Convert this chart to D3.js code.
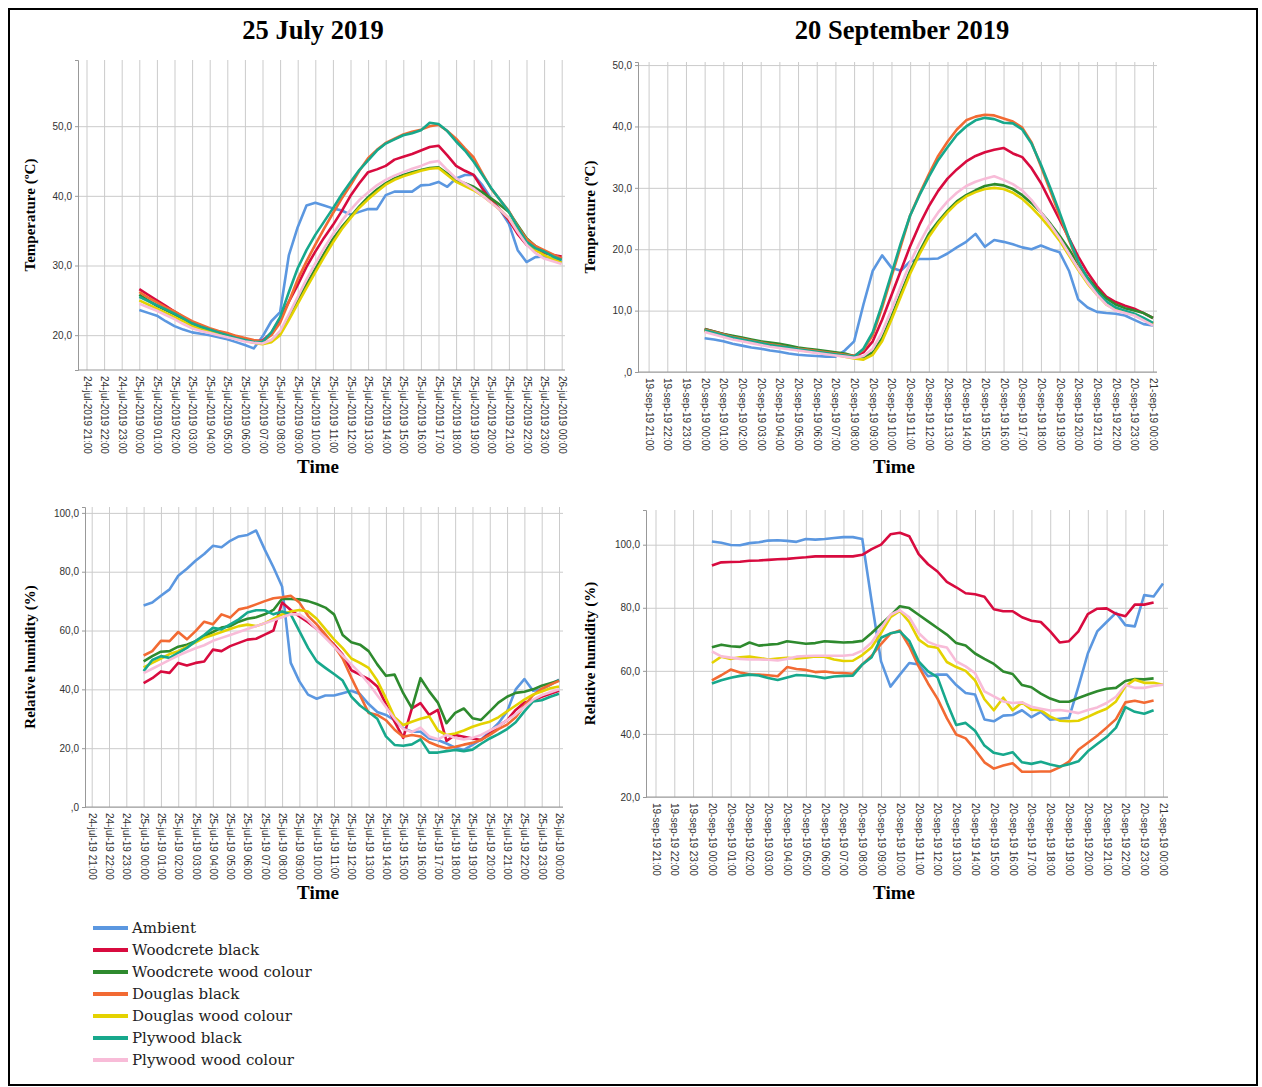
<!DOCTYPE html>
<html>
<head>
<meta charset="utf-8">
<script src="https://cdn.jsdelivr.net/npm/d3@7"></script>
<style>
  body { margin: 0; background: #fff; }
  svg { display: block; }
  .grid line { stroke: #cbcbcb; stroke-width: 1; }
  .axis text { font-family: "Liberation Sans", Arial, sans-serif; font-size: 10px; fill: #333; }
  .axis line, .axis path { stroke: #999; }
  .ttl { font-family: "Liberation Serif", "Times New Roman", serif; font-weight: bold; fill: #000; }
  .legend text { font-family: "DejaVu Serif", serif; font-size: 15px; fill: #222; }
</style>
</head>
<body>
<svg id="fig" width="1262" height="1087"></svg>
<script>
// series (legend order)
const seriesNames = ["Ambient", "Woodcrete black", "Woodcrete wood colour", "Douglas black",
  "Douglas wood colour", "Plywood black", "Plywood wood colour"];
const seriesColors = ["#5b97e0", "#d80b3f", "#2e8a2e", "#f26a33", "#e4d200", "#17a88c", "#f8bcd8"];

// x categories: hourly, first one is 21:00 the day before
const julyLongTicks = ["24-jul-2019 21:00", "24-jul-2019 22:00", "24-jul-2019 23:00", "25-jul-2019 00:00",
  "25-jul-2019 01:00", "25-jul-2019 02:00", "25-jul-2019 03:00", "25-jul-2019 04:00", "25-jul-2019 05:00",
  "25-jul-2019 06:00", "25-jul-2019 07:00", "25-jul-2019 08:00", "25-jul-2019 09:00", "25-jul-2019 10:00",
  "25-jul-2019 11:00", "25-jul-2019 12:00", "25-jul-2019 13:00", "25-jul-2019 14:00", "25-jul-2019 15:00",
  "25-jul-2019 16:00", "25-jul-2019 17:00", "25-jul-2019 18:00", "25-jul-2019 19:00", "25-jul-2019 20:00",
  "25-jul-2019 21:00", "25-jul-2019 22:00", "25-jul-2019 23:00", "26-jul-2019 00:00"];
const julyShortTicks = ["24-jul-19 21:00", "24-jul-19 22:00", "24-jul-19 23:00", "25-jul-19 00:00",
  "25-jul-19 01:00", "25-jul-19 02:00", "25-jul-19 03:00", "25-jul-19 04:00", "25-jul-19 05:00",
  "25-jul-19 06:00", "25-jul-19 07:00", "25-jul-19 08:00", "25-jul-19 09:00", "25-jul-19 10:00",
  "25-jul-19 11:00", "25-jul-19 12:00", "25-jul-19 13:00", "25-jul-19 14:00", "25-jul-19 15:00",
  "25-jul-19 16:00", "25-jul-19 17:00", "25-jul-19 18:00", "25-jul-19 19:00", "25-jul-19 20:00",
  "25-jul-19 21:00", "25-jul-19 22:00", "25-jul-19 23:00", "26-jul-19 00:00"];
const septTicks = ["19-sep-19 21:00", "19-sep-19 22:00", "19-sep-19 23:00", "20-sep-19 00:00",
  "20-sep-19 01:00", "20-sep-19 02:00", "20-sep-19 03:00", "20-sep-19 04:00", "20-sep-19 05:00",
  "20-sep-19 06:00", "20-sep-19 07:00", "20-sep-19 08:00", "20-sep-19 09:00", "20-sep-19 10:00",
  "20-sep-19 11:00", "20-sep-19 12:00", "20-sep-19 13:00", "20-sep-19 14:00", "20-sep-19 15:00",
  "20-sep-19 16:00", "20-sep-19 17:00", "20-sep-19 18:00", "20-sep-19 19:00", "20-sep-19 20:00",
  "20-sep-19 21:00", "20-sep-19 22:00", "20-sep-19 23:00", "21-sep-19 00:00"];

// samples start at 00:00 (category index 3), every half hour
const sampleStart = 3;
const sampleStep = 0.5;

const julTempTicks = [20, 30, 40, 50];
const sepTempTicks = [0, 10, 20, 30, 40, 50];
const julHumTicks = [0, 20, 40, 60, 80, 100];
const sepHumTicks = [20, 40, 60, 80, 100];

// 25 July 2019 - temperature (ºC)
const julTempAmbient = [23.6, 23.2, 22.8, 22.0, 21.3, 20.8, 20.4, 20.2, 20.0, 19.7,
  19.4, 19.0, 18.6, 18.1, 19.8, 22.0, 23.3, 31.5, 35.5, 38.6,
  39.0, 38.6, 38.2, 37.9, 37.3, 37.7, 38.1, 38.1, 40.1, 40.6,
  40.6, 40.6, 41.5, 41.6, 42.0, 41.3, 42.5, 43.0, 43.0, 41.5,
  39.6, 38.0, 36.0, 32.2, 30.5, 31.2, 31.3, 31.0, 30.5];
const julTempWoodcreteBlack = [26.6, 25.8, 25.0, 24.2, 23.4, 22.6, 21.8, 21.3, 20.8, 20.5,
  20.2, 19.8, 19.5, 19.2, 19.2, 20.3, 22.4, 24.8, 27.2, 29.8,
  32.0, 34.0, 35.8, 37.8, 40.0, 41.8, 43.4, 43.8, 44.3, 45.2,
  45.6, 46.0, 46.5, 47.0, 47.2, 45.8, 44.3, 43.6, 43.0, 41.0,
  39.3, 38.0, 36.5, 34.5, 33.0, 32.2, 31.8, 31.5, 31.3];
const julTempWoodcreteWood = [25.8, 25.0, 24.2, 23.6, 23.0, 22.3, 21.6, 21.1, 20.7, 20.4,
  20.1, 19.7, 19.4, 19.1, 18.8, 19.2, 20.3, 22.5, 25.0, 27.3,
  29.5, 31.7, 33.8, 35.5, 37.0, 38.5, 39.8, 40.9, 41.8, 42.5,
  43.0, 43.4, 43.7, 44.0, 44.1, 43.2, 42.2, 41.8, 41.3, 40.5,
  39.6, 38.7, 37.7, 35.8, 33.9, 32.8, 32.0, 31.5, 31.0];
const julTempDouglasBlack = [26.2, 25.4, 24.7, 24.0, 23.4, 22.7, 22.0, 21.5, 21.0, 20.6,
  20.3, 19.9, 19.6, 19.3, 19.1, 20.0, 21.8, 24.8, 28.0, 30.6,
  33.0, 35.3, 37.5, 39.6, 41.5, 43.6, 45.4, 46.6, 47.6, 48.2,
  48.8, 49.2, 49.5, 50.0, 50.2, 49.3, 48.2, 46.8, 45.5, 43.2,
  41.0, 39.4, 37.8, 35.6, 33.8, 32.8, 32.2, 31.6, 31.0];
const julTempDouglasWood = [25.0, 24.4, 23.8, 23.2, 22.6, 22.0, 21.3, 20.9, 20.5, 20.2,
  19.9, 19.5, 19.2, 18.9, 18.7, 19.0, 20.0, 22.2, 24.5, 26.8,
  29.0, 31.2, 33.3, 35.2, 36.8, 38.3, 39.5, 40.6, 41.6, 42.3,
  42.8, 43.2, 43.6, 43.9, 44.0, 43.0, 42.0, 41.4, 40.8, 40.0,
  39.0, 38.0, 36.8, 35.0, 33.2, 32.2, 31.5, 30.9, 30.4];
const julTempPlywoodBlack = [25.5, 24.9, 24.3, 23.7, 23.1, 22.4, 21.7, 21.2, 20.8, 20.4,
  20.0, 19.6, 19.3, 19.0, 19.0, 20.4, 22.6, 26.2, 29.6, 32.2,
  34.4, 36.3, 38.2, 40.2, 42.0, 43.7, 45.1, 46.5, 47.5, 48.1,
  48.7, 49.0, 49.4, 50.5, 50.3, 49.3, 47.8, 46.5, 44.9, 43.0,
  41.1, 39.4, 37.7, 35.5, 33.4, 32.5, 32.0, 31.3, 30.8];
const julTempPlywoodWood = [24.5, 24.0, 23.5, 22.9, 22.3, 21.6, 21.0, 20.6, 20.3, 20.0,
  19.7, 19.4, 19.1, 18.9, 18.8, 19.3, 20.6, 23.0, 25.5, 28.0,
  30.3, 32.5, 34.5, 36.4, 38.0, 39.4, 40.5, 41.5, 42.3, 42.9,
  43.4, 43.9, 44.3, 44.8, 45.0, 43.7, 42.5, 41.8, 41.0, 40.0,
  39.0, 38.0, 36.8, 34.8, 33.0, 31.8, 31.0, 30.6, 30.2];

// 20 September 2019 - temperature (ºC)
const sepTempAmbient = [5.5, 5.3, 5.0, 4.6, 4.3, 4.0, 3.8, 3.5, 3.3, 3.0,
  2.8, 2.7, 2.6, 2.5, 2.5, 3.5, 5.0, 11.0, 16.5, 19.0,
  17.0, 16.5, 18.0, 18.4, 18.4, 18.5, 19.3, 20.3, 21.2, 22.5,
  20.4, 21.5, 21.2, 20.8, 20.3, 20.0, 20.6, 20.0, 19.5, 16.5,
  11.8, 10.5, 9.8, 9.6, 9.5, 9.2, 8.5, 7.8, 7.6];
const sepTempWoodcreteBlack = [7.0, 6.6, 6.2, 5.8, 5.4, 5.1, 4.8, 4.6, 4.4, 4.1,
  3.8, 3.6, 3.4, 3.2, 3.0, 2.8, 2.6, 3.2, 5.0, 8.5,
  12.5, 16.5, 20.5, 24.0, 27.0, 29.5, 31.5, 33.0, 34.3, 35.2,
  35.8, 36.2, 36.5, 35.6, 35.0, 33.2, 30.8, 27.8, 24.8, 21.8,
  18.8, 16.2, 14.0, 12.3, 11.4, 10.8, 10.3, 9.6, 8.8];
const sepTempWoodcreteWood = [7.0, 6.6, 6.2, 5.9, 5.6, 5.3, 5.0, 4.8, 4.6, 4.3,
  4.0, 3.8, 3.6, 3.4, 3.2, 3.0, 2.6, 2.4, 3.2, 5.5,
  9.0, 12.8, 16.5, 19.6, 22.5, 24.5, 26.3, 27.8, 28.8, 29.6,
  30.3, 30.6, 30.4, 29.8, 28.8, 27.5, 26.0, 24.2, 22.2, 20.0,
  17.6, 15.4, 13.5, 12.0, 11.0, 10.4, 10.0, 9.6, 8.8];
const sepTempDouglasBlack = [6.9, 6.5, 6.1, 5.7, 5.4, 5.1, 4.8, 4.5, 4.3, 4.0,
  3.8, 3.6, 3.4, 3.2, 3.0, 2.8, 2.6, 3.6, 6.0, 10.5,
  15.5, 20.5, 25.5, 29.0, 32.2, 35.2, 37.5, 39.5, 41.0, 41.6,
  41.9, 41.8, 41.3, 40.8, 39.8, 37.4, 33.5, 29.5, 25.5, 21.5,
  17.8, 15.0, 12.8, 11.3, 10.4, 9.9, 9.4, 8.7, 7.9];
const sepTempDouglasWood = [6.7, 6.3, 5.9, 5.5, 5.2, 4.9, 4.6, 4.3, 4.1, 3.9,
  3.6, 3.4, 3.2, 3.0, 2.8, 2.5, 2.2, 2.0, 2.8, 5.0,
  8.5, 12.3, 16.0, 19.2, 22.0, 24.2, 26.0, 27.5, 28.6, 29.3,
  29.8, 30.0, 29.8, 29.2, 28.2, 26.8, 25.2, 23.4, 21.4, 19.0,
  16.6, 14.4, 12.6, 11.0, 10.2, 9.8, 9.4, 8.6, 7.8];
const sepTempPlywoodBlack = [6.8, 6.4, 6.0, 5.6, 5.3, 5.0, 4.7, 4.4, 4.2, 4.0,
  3.7, 3.5, 3.3, 3.1, 2.9, 2.7, 2.5, 3.8, 6.5, 11.0,
  16.0, 21.0, 25.5, 28.8, 31.8, 34.5, 36.6, 38.6, 40.0, 41.0,
  41.4, 41.2, 40.6, 40.5, 39.5, 37.2, 33.8, 30.0, 26.0, 21.8,
  18.0, 15.2, 13.0, 11.5, 10.5, 10.0, 9.5, 8.8, 8.0];
const sepTempPlywoodWood = [6.5, 6.1, 5.7, 5.3, 5.0, 4.7, 4.4, 4.1, 3.9, 3.7,
  3.5, 3.3, 3.1, 2.9, 2.7, 2.5, 2.3, 2.6, 3.8, 6.5,
  10.2, 14.0, 17.8, 21.0, 23.8, 26.0, 27.8, 29.2, 30.3, 31.0,
  31.5, 31.9, 31.3, 30.6, 29.6, 28.0, 26.0, 24.0, 21.8, 19.3,
  16.8, 14.6, 12.6, 11.0, 10.0, 9.6, 9.2, 8.4, 7.6];

// 25 July 2019 - relative humidity (%)
const julHumAmbient = [68.5, 69.5, 71.8, 74.0, 78.6, 81.0, 83.7, 86.0, 88.8, 88.3,
  90.5, 92.0, 92.5, 94.0, 87.5, 81.5, 75.0, 49.0, 42.7, 38.2,
  36.8, 37.9, 37.9, 38.7, 39.5, 38.4, 35.0, 32.3, 31.3, 29.5,
  26.8, 25.6, 25.6, 23.3, 22.8, 21.6, 20.2, 19.4, 21.1, 23.0,
  25.6, 28.5, 32.5, 40.0, 43.5, 39.5, 40.0, 41.5, 43.3];
const julHumWoodcreteBlack = [42.1, 43.8, 46.1, 45.6, 49.0, 48.1, 49.0, 49.5, 53.5, 53.0,
  54.7, 55.8, 56.9, 57.2, 58.6, 60.0, 69.5, 67.0, 64.8, 62.8,
  60.5, 58.3, 55.2, 51.8, 46.5, 45.0, 43.5, 41.0, 35.0, 29.0,
  23.5, 33.5, 35.3, 31.3, 33.0, 22.5, 24.5, 23.9, 23.3, 22.8,
  25.0, 27.5, 29.5, 33.0, 35.5, 36.2, 37.5, 38.5, 39.5];
const julHumWoodcreteWood = [49.5, 51.3, 52.8, 53.0, 54.5, 55.2, 56.4, 58.0, 59.5, 61.0,
  61.5, 63.0, 64.0, 64.5, 65.5, 67.0, 70.8, 70.7, 70.6, 70.0,
  69.0, 67.8, 65.5, 58.5, 56.0, 55.2, 53.0, 48.5, 44.6, 45.0,
  38.7, 33.6, 43.8, 39.3, 35.5, 28.5, 32.0, 33.5, 30.2, 29.6,
  32.5, 35.5, 37.5, 38.8, 39.2, 40.0, 41.2, 42.1, 43.0];
const julHumDouglasBlack = [51.5, 53.0, 56.5, 56.4, 59.5, 57.0, 59.8, 63.0, 62.1, 65.5,
  64.4, 67.2, 67.8, 68.9, 70.0, 71.0, 71.3, 71.8, 69.5, 65.0,
  62.1, 58.7, 54.8, 50.5, 44.0, 38.0, 32.0, 31.3, 29.5, 26.3,
  23.9, 24.5, 24.0, 22.0, 20.8, 20.0, 20.5, 21.2, 21.8, 22.8,
  24.5, 26.5, 28.0, 30.5, 34.5, 38.0, 40.2, 41.6, 42.9];
const julHumDouglasWood = [47.5, 49.0, 50.5, 52.0, 53.0, 54.5, 56.0, 57.5, 58.5, 59.5,
  60.5, 61.5, 62.0, 61.5, 62.5, 64.0, 65.5, 66.5, 67.0, 66.5,
  64.0, 60.5, 57.0, 54.0, 50.5, 49.0, 47.3, 43.0, 37.0, 30.5,
  27.9, 29.0, 30.0, 30.8, 26.0, 24.5, 25.0, 26.0, 27.3, 28.2,
  29.0, 30.5, 32.5, 34.5, 36.5, 38.2, 39.3, 40.4, 41.0];
const julHumPlywoodBlack = [46.2, 50.0, 51.3, 50.7, 52.4, 54.1, 56.4, 58.5, 60.9, 60.4,
  62.1, 63.8, 66.1, 66.9, 66.9, 65.5, 66.5, 65.5, 59.8, 54.1,
  49.5, 47.3, 45.2, 43.0, 37.5, 34.5, 32.3, 30.0, 24.0, 21.1,
  20.8, 21.3, 23.0, 18.5, 18.5, 19.0, 19.4, 19.0, 19.5, 21.5,
  23.3, 24.8, 26.5, 28.8, 32.5, 35.9, 36.3, 37.5, 38.5];
const julHumPlywoodWood = [45.5, 47.0, 48.5, 50.0, 51.5, 52.8, 54.0, 55.0, 56.5, 57.5,
  58.5, 59.5, 60.5, 61.5, 62.5, 63.5, 64.5, 65.5, 65.5, 63.5,
  60.5, 57.5, 54.5, 51.5, 48.5, 45.5, 42.0, 38.0, 34.0, 30.0,
  26.5, 25.5, 27.0, 24.0, 23.0, 24.5, 23.5, 23.0, 23.5, 24.5,
  26.0, 27.5, 29.5, 31.5, 34.0, 36.5, 38.0, 39.0, 40.0];

// 20 September 2019 - relative humidity (%)
const sepHumAmbient = [101.0, 100.6, 99.9, 99.8, 100.5, 100.8, 101.3, 101.4, 101.2, 100.9,
  101.8, 101.6, 101.8, 102.1, 102.4, 102.4, 101.8, 82.0, 63.0, 55.0,
  58.8, 62.5, 62.0, 58.3, 58.8, 58.8, 55.5, 53.0, 52.5, 44.6,
  44.0, 45.8, 46.0, 47.5, 45.3, 47.0, 44.5, 44.8, 45.1, 55.0,
  65.5, 72.5, 75.5, 78.4, 74.5, 74.1, 84.0, 83.6, 87.7];
const sepHumWoodcreteBlack = [93.4, 94.4, 94.5, 94.6, 94.9, 95.0, 95.2, 95.4, 95.5, 95.8,
  96.0, 96.3, 96.3, 96.3, 96.3, 96.3, 96.8, 98.6, 100.0, 103.3,
  103.8, 102.7, 97.0, 93.8, 91.5, 88.2, 86.5, 84.6, 84.3, 83.5,
  79.5, 78.9, 78.9, 77.0, 75.9, 75.5, 72.5, 69.0, 69.4, 72.5,
  78.0, 79.7, 79.8, 78.1, 77.3, 81.0, 81.0, 81.7];
const sepHumWoodcreteWood = [67.5, 68.3, 67.8, 67.6, 69.0, 68.0, 68.3, 68.5, 69.4, 69.0,
  68.6, 68.8, 69.4, 69.2, 69.0, 69.1, 69.5, 72.0, 74.8, 77.5,
  80.5, 79.9, 77.8, 75.7, 73.6, 71.5, 68.8, 68.0, 65.5, 63.8,
  62.2, 59.8, 59.0, 55.5, 54.8, 52.8, 51.2, 50.2, 50.2, 51.4,
  52.5, 53.5, 54.3, 54.6, 56.8, 57.4, 57.3, 57.6];
const sepHumDouglasBlack = [57.0, 58.6, 60.4, 59.5, 58.9, 58.8, 58.6, 58.3, 61.2, 60.6,
  60.3, 59.6, 59.8, 59.4, 59.3, 59.1, 62.0, 64.8, 68.5, 71.8,
  72.8, 67.8, 61.4, 56.0, 51.2, 45.0, 39.8, 38.6, 35.0, 31.0,
  29.0, 30.0, 30.7, 28.0, 28.0, 28.1, 28.1, 29.4, 31.2, 35.0,
  37.2, 39.4, 42.0, 44.7, 50.0, 50.5, 49.9, 50.6];
const sepHumDouglasWood = [62.5, 64.5, 63.8, 64.3, 64.5, 64.1, 63.6, 63.9, 64.1, 63.9,
  64.2, 64.6, 64.5, 63.6, 63.1, 63.2, 65.0, 67.5, 72.0, 77.0,
  79.0, 75.5, 69.9, 67.8, 67.3, 62.8, 61.2, 60.0, 57.0, 51.0,
  47.5, 51.5, 47.5, 50.0, 47.7, 47.5, 45.5, 44.2, 44.0, 44.2,
  45.4, 46.8, 48.0, 50.3, 55.1, 57.2, 56.2, 56.2, 55.6];
const sepHumPlywoodBlack = [56.0, 57.0, 57.8, 58.4, 58.8, 58.5, 57.7, 57.1, 57.9, 58.7,
  58.5, 58.2, 57.7, 58.2, 58.4, 58.5, 62.0, 64.3, 70.5, 71.9,
  72.5, 69.5, 63.0, 59.8, 58.0, 50.0, 42.8, 43.5, 41.0, 36.3,
  34.0, 33.4, 34.2, 31.0, 30.5, 31.2, 30.3, 29.7, 30.4, 31.3,
  34.5, 36.8, 39.0, 42.0, 48.5, 47.0, 46.4, 47.5];
const sepHumPlywoodWood = [66.2, 64.6, 64.2, 63.8, 63.6, 63.6, 63.5, 63.3, 63.8, 64.5,
  64.7, 64.8, 64.8, 64.8, 64.8, 65.1, 66.4, 69.0, 73.5, 77.8,
  79.2, 77.0, 72.0, 69.2, 68.0, 67.4, 63.0, 61.4, 59.3, 53.5,
  51.9, 50.3, 49.8, 50.0, 48.6, 48.0, 47.4, 47.6, 47.2, 46.6,
  47.6, 48.4, 49.8, 51.8, 55.5, 54.6, 54.6, 55.2, 55.6];

const fmtComma = v => v === 0 ? ",0" : v.toFixed(1).replace(".", ",");

class LineChart {
  constructor(svg, box) {
    this.svg = svg;
    this.box = box;
  }

  draw(series, xLabels, yTicks, yDomain) {
    const b = this.box;
    const g = this.svg.append("g");
    const n = xLabels.length;

    const x = d3.scaleLinear().domain([0, n - 1]).range([b.x0, b.x1]);
    const y = d3.scaleLinear().domain(yDomain).range([b.bottom, b.top]);

    // vertical grid, one line per hour
    g.append("g").attr("class", "grid")
      .attr("transform", `translate(0,${b.bottom})`)
      .call(d3.axisBottom(x).tickValues(d3.range(n)).tickSize(-(b.bottom - b.top)).tickFormat(""))
      .call(a => a.select(".domain").remove());

    // horizontal grid
    g.append("g").attr("class", "grid")
      .attr("transform", `translate(${b.left},0)`)
      .call(d3.axisLeft(y).tickValues(yTicks).tickSize(-(b.right - b.left)).tickFormat(""))
      .call(a => a.select(".domain").remove());

    // y axis
    g.append("g").attr("class", "axis")
      .attr("transform", `translate(${b.left},0)`)
      .call(d3.axisLeft(y).tickValues(yTicks).tickSize(3).tickPadding(3).tickFormat(fmtComma));

    // x axis, labels turned 90 degrees
    const xa = g.append("g").attr("class", "axis")
      .attr("transform", `translate(0,${b.bottom})`)
      .call(d3.axisBottom(x).tickValues(d3.range(n)).tickSize(0).tickFormat(i => xLabels[i]));
    xa.select(".domain").remove();
    xa.append("line").attr("x1", b.left).attr("x2", b.right).attr("stroke", "#999");
    xa.selectAll("text")
      .attr("transform", "rotate(90)")
      .attr("x", 6).attr("y", 0).attr("dy", "0.35em")
      .style("text-anchor", "start");

    const line = d3.line()
      .x((d, i) => x(sampleStart + i * sampleStep))
      .y(d => y(d));

    g.selectAll("path.series")
      .data(series)
      .join("path")
      .attr("class", "series")
      .attr("fill", "none")
      .attr("stroke", (d, i) => seriesColors[i])
      .attr("stroke-width", 2.6)
      .attr("stroke-linejoin", "round")
      .attr("d", line);

    // axis titles
    g.append("text").attr("class", "ttl")
      .attr("transform", `translate(${b.yTitleX},${(b.top + b.bottom) / 2}) rotate(-90)`)
      .attr("text-anchor", "middle")
      .style("font-size", "15px")
      .text(b.yTitle);
    g.append("text").attr("class", "ttl")
      .attr("x", b.xTitleX).attr("y", b.xTitleY)
      .attr("text-anchor", "middle")
      .style("font-size", "19px")
      .text("Time");
  }
}

const svg = d3.select("#fig");

svg.append("rect")
  .attr("x", 9).attr("y", 9).attr("width", 1248).attr("height", 1076)
  .attr("fill", "none").attr("stroke", "#000").attr("stroke-width", 2);

svg.append("text").attr("class", "ttl").attr("x", 313).attr("y", 39)
  .attr("text-anchor", "middle").style("font-size", "26.5px").text("25 July 2019");
svg.append("text").attr("class", "ttl").attr("x", 902).attr("y", 39)
  .attr("text-anchor", "middle").style("font-size", "26.5px").text("20 September 2019");

new LineChart(svg, {
  x0: 86.5, x1: 561.7, left: 78, right: 565, top: 60, bottom: 370,
  yTitle: "Temperature (ºC)", yTitleX: 35, xTitleX: 318, xTitleY: 473
}).draw([julTempAmbient, julTempWoodcreteBlack, julTempWoodcreteWood, julTempDouglasBlack,
  julTempDouglasWood, julTempPlywoodBlack, julTempPlywoodWood], julyLongTicks, julTempTicks, [15, 59.5]);

new LineChart(svg, {
  x0: 648.6, x1: 1153, left: 638, right: 1157, top: 62, bottom: 372,
  yTitle: "Temperature (ºC)", yTitleX: 595, xTitleX: 894, xTitleY: 473
}).draw([sepTempAmbient, sepTempWoodcreteBlack, sepTempWoodcreteWood, sepTempDouglasBlack,
  sepTempDouglasWood, sepTempPlywoodBlack, sepTempPlywoodWood], septTicks, sepTempTicks, [0, 50.5]);

new LineChart(svg, {
  x0: 91.7, x1: 559, left: 85, right: 563, top: 507, bottom: 807,
  yTitle: "Relative humidity (%)", yTitleX: 35, xTitleX: 318, xTitleY: 899
}).draw([julHumAmbient, julHumWoodcreteBlack, julHumWoodcreteWood, julHumDouglasBlack,
  julHumDouglasWood, julHumPlywoodBlack, julHumPlywoodWood], julyShortTicks, julHumTicks, [0, 102]);

new LineChart(svg, {
  x0: 655.5, x1: 1163, left: 646, right: 1168, top: 510, bottom: 797,
  yTitle: "Relative humidity (%)", yTitleX: 595, xTitleX: 894, xTitleY: 899
}).draw([sepHumAmbient, sepHumWoodcreteBlack, sepHumWoodcreteWood, sepHumDouglasBlack,
  sepHumDouglasWood, sepHumPlywoodBlack, sepHumPlywoodWood], septTicks, sepHumTicks, [20, 111]);

// legend
const legend = svg.append("g").attr("class", "legend");
const rows = legend.selectAll("g").data(seriesNames).join("g")
  .attr("transform", (d, i) => `translate(93,${928 + i * 22})`);
rows.append("line").attr("x1", 0).attr("x2", 35)
  .attr("stroke", (d, i) => seriesColors[i]).attr("stroke-width", 4);
rows.append("text").attr("x", 39).attr("dy", "0.35em").text(d => d);
</script>
</body>
</html>
